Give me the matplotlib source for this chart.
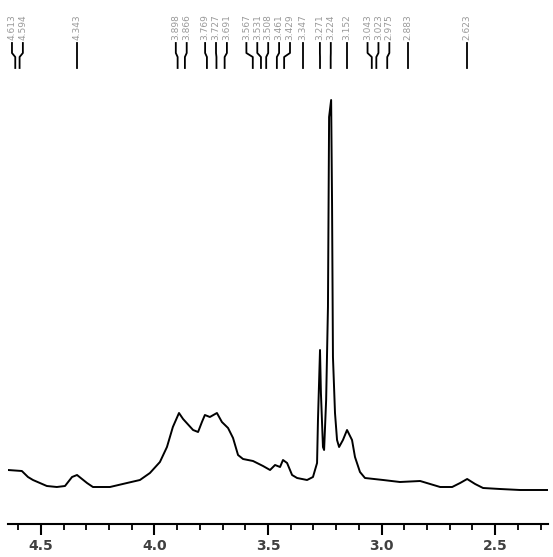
import numpy as np
import matplotlib
matplotlib.use("Agg")
import matplotlib.pyplot as plt

# spectrum trace (ppm, height above axis)
ppm = [4.645, 4.584, 4.557, 4.535, 4.474, 4.430, 4.394, 4.363, 4.341, 4.297,
       4.271, 4.196, 4.121, 4.064, 4.020, 3.976, 3.945, 3.919, 3.892, 3.874,
       3.830, 3.808, 3.791, 3.778, 3.756, 3.725, 3.703, 3.676, 3.654, 3.632,
       3.610, 3.566, 3.522, 3.491, 3.469, 3.447, 3.434, 3.416, 3.394, 3.372,
       3.328, 3.302, 3.284, 3.280, 3.271, 3.267, 3.258, 3.253, 3.244, 3.236,
       3.231, 3.222, 3.218, 3.214, 3.205, 3.196, 3.187, 3.170, 3.152, 3.130,
       3.117, 3.095, 3.073, 2.993, 2.919, 2.830, 2.786, 2.742, 2.689, 2.654,
       2.623, 2.588, 2.553, 2.478, 2.390, 2.271]
intensity = [54, 53, 47, 44, 38, 37, 38, 47, 49, 41,
             37, 37, 41, 44, 51, 62, 77, 97, 111, 105,
             94, 92, 102, 109, 107, 111, 102, 96, 86, 69,
             65, 63, 58, 54, 59, 57, 64, 61, 49, 46,
             44, 47, 61, 104, 174, 131, 77, 74, 124, 217,
             407, 424, 321, 167, 111, 84, 77, 84, 94, 84,
             67, 52, 46, 44, 42, 43, 40, 37, 37, 41,
             45, 40, 36, 35, 34, 34]

# picked peaks
peaks = [4.613, 4.594, 4.343, 3.898, 3.866, 3.769, 3.727, 3.691, 3.567, 3.531,
         3.508, 3.461, 3.429, 3.347, 3.271, 3.224, 3.152, 3.043, 3.023, 2.975,
         2.883, 2.623]

major_ticks = [4.5, 4.0, 3.5, 3.0, 2.5]


def spread_labels(pos, gap):
    """group peaks that are too close and space them evenly around the group mean"""
    groups = [[p] for p in sorted(pos, reverse=True)]
    merged = True
    while merged:
        merged = False
        out = [groups[0]]
        for g in groups[1:]:
            prev = out[-1]
            c_prev = np.mean(prev)
            c_g = np.mean(g)
            top_prev = c_prev - gap * (len(prev) - 1) / 2
            bot_g = c_g + gap * (len(g) - 1) / 2
            if bot_g > top_prev - gap:
                out[-1] = prev + g
                merged = True
            else:
                out.append(g)
        groups = out
    res = []
    for g in groups:
        c = np.mean(g)
        n = len(g)
        res += [c + gap * ((n - 1) / 2 - i) for i in range(n)]
    return res


W, H = 553, 557
fig = plt.figure(figsize=(W / 100, H / 100), dpi=100)
ax = fig.add_axes([8 / W, 33 / H, 540 / W, 524 / H])

ax.plot(ppm, intensity, color='black', lw=1.4)
ax.set_xlim(4.645, 2.267)
ax.set_ylim(0, 524)

# peak labels and connector lines
label_x = spread_labels(peaks, 0.048)
for p, lx in zip(sorted(peaks, reverse=True), label_x):
    ax.plot([lx, lx, p, p], [481, 471, 467, 456], color='black', lw=1.3,
            clip_on=False)
    ax.text(lx, 484, f"{p:.3f}", rotation=90, ha='center', va='bottom',
            fontsize=6.5, color='0.6', clip_on=False)

for s in ['top', 'left', 'right']:
    ax.spines[s].set_visible(False)
ax.spines['bottom'].set_linewidth(1.5)
ax.set_yticks([])
ax.set_xticks(major_ticks)
ax.set_xticklabels([f"{t:.1f}" for t in major_ticks], fontweight='bold',
                   fontsize=10, color='0.25')
ax.set_xticks(np.arange(2.3, 4.65, 0.1), minor=True)
ax.tick_params(axis='x', which='major', length=8, width=1.5, pad=3)
ax.tick_params(axis='x', which='minor', length=4, width=1.3)

fig.savefig("out.png", dpi=100)
